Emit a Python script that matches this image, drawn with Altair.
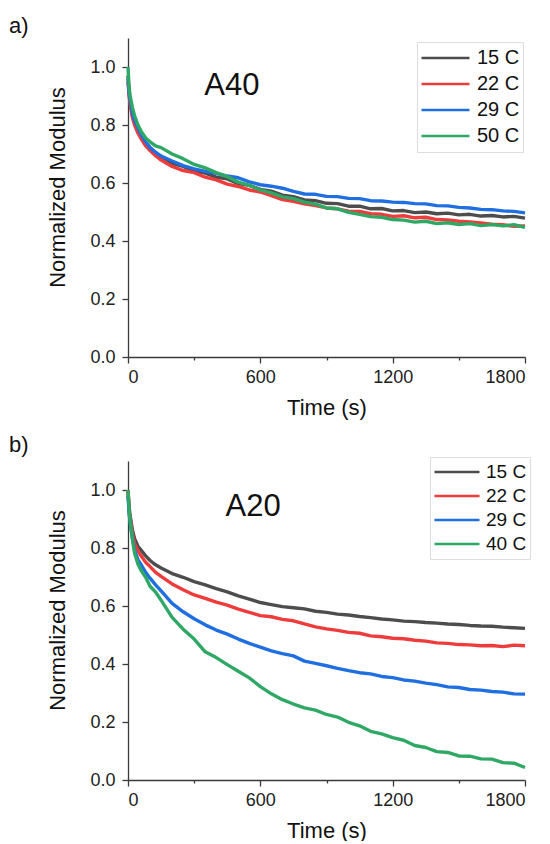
import altair as alt
import pandas as pd

# time grid (s)
TIME = [0, 5, 10, 20, 30, 45, 60, 80, 100, 125, 150,
        200, 250, 300, 350, 400, 450, 500, 550, 600, 650, 700,
        750, 800, 850, 900, 950, 1000, 1050, 1100, 1150, 1200, 1250,
        1300, 1350, 1400, 1450, 1500, 1550, 1600, 1650, 1700, 1750, 1800]

# panel a) A40
A40_15 = [0.97, 0.91, 0.88, 0.835, 0.81, 0.785, 0.762, 0.738, 0.722, 0.703, 0.692,
          0.668, 0.657, 0.641, 0.634, 0.620, 0.614, 0.598, 0.592, 0.578, 0.572, 0.558,
          0.553, 0.542, 0.539, 0.530, 0.529, 0.520, 0.520, 0.511, 0.512, 0.504, 0.505,
          0.498, 0.500, 0.494, 0.496, 0.490, 0.492, 0.486, 0.488, 0.483, 0.485, 0.479]
A40_22 = [0.95, 0.90, 0.87, 0.825, 0.80, 0.772, 0.752, 0.728, 0.712, 0.694, 0.679,
          0.657, 0.643, 0.636, 0.620, 0.611, 0.596, 0.588, 0.576, 0.569, 0.556, 0.543,
          0.537, 0.528, 0.522, 0.514, 0.511, 0.503, 0.502, 0.494, 0.492, 0.485, 0.487,
          0.480, 0.482, 0.474, 0.473, 0.468, 0.466, 0.462, 0.458, 0.456, 0.451, 0.452]
A40_29 = [0.96, 0.91, 0.885, 0.84, 0.815, 0.79, 0.767, 0.742, 0.722, 0.706, 0.693,
          0.676, 0.660, 0.649, 0.640, 0.633, 0.624, 0.618, 0.604, 0.594, 0.589, 0.582,
          0.571, 0.562, 0.561, 0.554, 0.553, 0.547, 0.546, 0.539, 0.538, 0.534, 0.533,
          0.529, 0.528, 0.522, 0.521, 0.516, 0.514, 0.509, 0.508, 0.504, 0.502, 0.497]
A40_50 = [1.0, 0.93, 0.90, 0.86, 0.832, 0.80, 0.778, 0.755, 0.742, 0.728, 0.722,
          0.700, 0.684, 0.664, 0.652, 0.636, 0.622, 0.603, 0.592, 0.576, 0.566, 0.552,
          0.546, 0.534, 0.527, 0.514, 0.511, 0.499, 0.492, 0.484, 0.482, 0.474, 0.472,
          0.465, 0.468, 0.460, 0.463, 0.457, 0.460, 0.453, 0.457, 0.452, 0.456, 0.447]

# panel b) A20
A20_15 = [1.0, 0.94, 0.91, 0.862, 0.832, 0.806, 0.792, 0.773, 0.757, 0.742, 0.731,
          0.712, 0.699, 0.684, 0.673, 0.660, 0.649, 0.635, 0.624, 0.612, 0.605, 0.598,
          0.594, 0.590, 0.582, 0.578, 0.572, 0.569, 0.564, 0.560, 0.555, 0.552, 0.548,
          0.546, 0.543, 0.541, 0.538, 0.536, 0.533, 0.531, 0.530, 0.527, 0.525, 0.523]
A20_22 = [1.0, 0.93, 0.90, 0.85, 0.815, 0.79, 0.772, 0.751, 0.736, 0.716, 0.702,
          0.676, 0.656, 0.638, 0.626, 0.613, 0.603, 0.589, 0.578, 0.567, 0.563, 0.554,
          0.549, 0.538, 0.528, 0.521, 0.516, 0.509, 0.506, 0.497, 0.494, 0.489, 0.487,
          0.482, 0.479, 0.473, 0.471, 0.467, 0.466, 0.463, 0.464, 0.460, 0.465, 0.463]
A20_29 = [0.98, 0.92, 0.885, 0.835, 0.792, 0.76, 0.742, 0.716, 0.696, 0.673, 0.652,
          0.609, 0.580, 0.556, 0.535, 0.517, 0.503, 0.486, 0.471, 0.458, 0.445, 0.436,
          0.428, 0.410, 0.402, 0.394, 0.385, 0.377, 0.370, 0.366, 0.357, 0.353, 0.345,
          0.341, 0.334, 0.329, 0.321, 0.319, 0.312, 0.310, 0.305, 0.303, 0.297, 0.296]
A20_40 = [1.0, 0.93, 0.89, 0.83, 0.782, 0.745, 0.722, 0.699, 0.668, 0.648, 0.620,
          0.561, 0.520, 0.486, 0.442, 0.422, 0.398, 0.375, 0.352, 0.322, 0.297, 0.277,
          0.262, 0.249, 0.241, 0.226, 0.217, 0.199, 0.187, 0.168, 0.159, 0.146, 0.137,
          0.119, 0.112, 0.098, 0.095, 0.083, 0.082, 0.073, 0.072, 0.060, 0.058, 0.043]

TEMPS_A = ["15 C", "22 C", "29 C", "50 C"]
TEMPS_B = ["15 C", "22 C", "29 C", "40 C"]
COLORS = ["#4d4d4d", "#ee3b3b", "#1f6fe0", "#2fa866"]

X_TICKS = [0, 300, 600, 900, 1200, 1500, 1800]
Y_TICKS = [0.0, 0.1, 0.2, 0.3, 0.4, 0.5, 0.6, 0.7, 0.8, 0.9, 1.0]

FONT = "Liberation Sans"


def long_df(series, temps):
    rows = []
    for temp, vals in zip(temps, series):
        for t, v in zip(TIME, vals):
            rows.append({"time": t, "modulus": v, "temp": temp})
    return pd.DataFrame(rows)


def panel(df, temps, tag, tag_y, name, name_t, name_v, leg):
    x = alt.X(
        "time:Q",
        scale=alt.Scale(domain=[0, 1800], nice=False, zero=False),
        axis=alt.Axis(
            title="Time (s)",
            values=X_TICKS,
            format="d",
            labelExpr="datum.value % 600 === 0 ? datum.label : ''",
            tickSize={"condition": {"test": "datum.value % 600 === 0", "value": 6}, "value": 3},
            labelPadding=5,
            titlePadding=11,
        ),
    )
    y = alt.Y(
        "modulus:Q",
        scale=alt.Scale(domain=[0, 1.1], nice=False, zero=False),
        axis=alt.Axis(
            title="Normalized Modulus",
            values=Y_TICKS,
            format=".1f",
            labelExpr="round(datum.value * 10) % 2 === 0 ? datum.label : ''",
            tickSize={"condition": {"test": "round(datum.value * 10) % 2 === 0", "value": 6}, "value": 3},
            labelPadding=7,
            titlePadding=20,
            titleY=149,
        ),
    )
    lines = alt.Chart(df).mark_line(strokeWidth=3.4, strokeJoin="round").encode(
        x=x,
        y=y,
        color=alt.Color(
            "temp:N",
            scale=alt.Scale(domain=temps, range=COLORS),
            legend=alt.Legend(
                orient="none",
                legendX=leg["x"],
                legendY=leg["y"],
                title=None,
                symbolType="stroke",
                symbolSize=leg["sym"] ** 2,
                symbolStrokeWidth=2.6,
                clipHeight=leg["row"],
                labelFontSize=leg["font"],
                labelFont=FONT,
                labelColor="#111111",
                labelOffset=leg["off"],
                padding=3,
                rowPadding=0,
                strokeColor="#dddddd",
                fillColor="white",
            ),
        ),
    )
    label = alt.Chart(pd.DataFrame({"txt": [name]})).mark_text(
        font=FONT, fontSize=31, align="center", baseline="alphabetic", color="#111111"
    ).encode(x=alt.datum(name_t), y=alt.datum(name_v), text="txt:N")
    tag_mark = alt.Chart(pd.DataFrame({"txt": [tag]})).mark_text(
        font=FONT, fontSize=22, align="left", baseline="alphabetic", color="#111111"
    ).encode(x=alt.value(-119), y=alt.value(tag_y), text="txt:N")
    return alt.layer(lines, label, tag_mark).properties(width=397, height=319)


pa = panel(long_df([A40_15, A40_22, A40_29, A40_50], TEMPS_A), TEMPS_A, "a)", -5, "A40", 471, 0.903,
           {"x": 289, "y": 4, "sym": 48, "row": 26, "font": 20, "off": 6})
pb = panel(long_df([A20_15, A20_22, A20_29, A20_40], TEMPS_B), TEMPS_B, "b)", -9, "A20", 567, 0.912,
           {"x": 302, "y": -4, "sym": 45, "row": 24, "font": 19, "off": 5})

chart = alt.vconcat(pa, pb, spacing=16).resolve_scale(color="independent").resolve_legend(
    color="independent"
).properties(
    padding={"left": 1, "top": 7, "right": 0, "bottom": 0}
).configure_view(stroke=None).configure_axis(
    grid=False,
    domainColor="#3a3a3a",
    domainWidth=1.3,
    tickColor="#3a3a3a",
    tickWidth=1.3,
    labelFont=FONT,
    labelFontSize=18,
    labelColor="#222222",
    titleFont=FONT,
    titleFontSize=22,
    titleFontWeight="normal",
    titleColor="#111111",
)

chart.save("out.html", embed_options={"renderer": "svg", "actions": False})
